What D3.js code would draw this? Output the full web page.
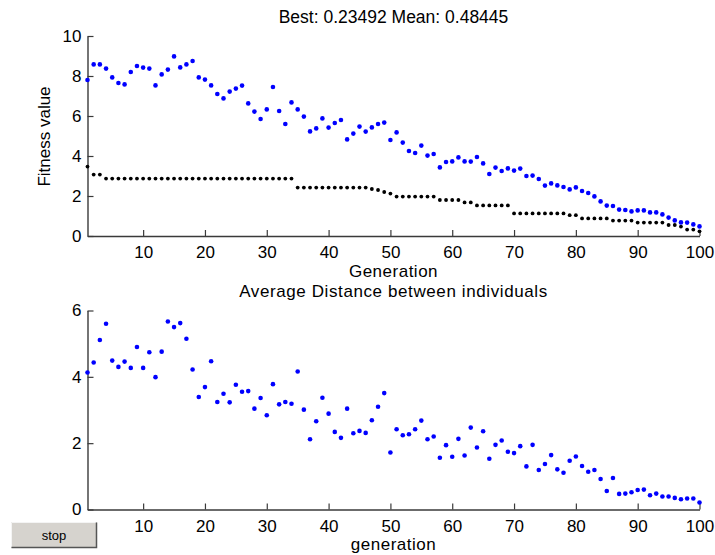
<!DOCTYPE html>
<html>
<head>
<meta charset="utf-8">
<script src="https://cdn.jsdelivr.net/npm/d3@7"></script>
<style>
  html, body { margin: 0; padding: 0; background: #fff; }
  svg { display: block; }
  text { font-family: "Liberation Sans", Arial, Helvetica, sans-serif; fill: #000; }
</style>
</head>
<body>
<svg id="chart" width="715" height="555"></svg>
<script>
// ---------- data ----------
const generations = d3.range(1, 101);

const meanFitness = [
  7.8, 8.58, 8.58, 8.37, 7.93, 7.65, 7.58, 8.2, 8.5, 8.42,
  8.37, 7.53, 8.08, 8.32, 8.98, 8.43, 8.58, 8.75, 7.93, 7.82,
  7.53, 7.1, 6.88, 7.22, 7.37, 7.52, 6.63, 6.22, 5.85, 6.33,
  7.45, 6.25, 5.6, 6.68, 6.33, 5.97, 5.23, 5.38, 5.88, 5.42,
  5.65, 5.8, 4.83, 5.12, 5.47, 5.22, 5.43, 5.6, 5.67, 4.8,
  5.18, 4.67, 4.25, 4.15, 4.52, 4.02, 4.1, 3.43, 3.7, 3.73,
  3.93, 3.73, 3.72, 3.95, 3.63, 3.1, 3.42, 3.25, 3.38, 3.27,
  3.37, 3.0, 3.02, 2.85, 2.52, 2.63, 2.53, 2.45, 2.33, 2.43,
  2.25, 2.15, 1.98, 1.73, 1.52, 1.5, 1.32, 1.3, 1.23, 1.28,
  1.28, 1.18, 1.18, 1.08, 0.92, 0.78, 0.68, 0.67, 0.58, 0.48
];

const bestFitness = [
  3.47, 3.07, 3.07, 2.87, 2.87, 2.87, 2.87, 2.87, 2.87, 2.87,
  2.87, 2.87, 2.87, 2.87, 2.87, 2.87, 2.87, 2.87, 2.87, 2.87,
  2.87, 2.87, 2.87, 2.87, 2.87, 2.87, 2.87, 2.87, 2.87, 2.87,
  2.87, 2.87, 2.87, 2.87, 2.42, 2.42, 2.42, 2.42, 2.42, 2.42,
  2.42, 2.42, 2.42, 2.42, 2.42, 2.42, 2.35, 2.3, 2.2, 2.12,
  1.97, 1.97, 1.97, 1.97, 1.97, 1.97, 1.97, 1.8, 1.8, 1.8,
  1.8, 1.68, 1.68, 1.53, 1.53, 1.53, 1.53, 1.53, 1.53, 1.13,
  1.13, 1.13, 1.13, 1.13, 1.13, 1.13, 1.13, 1.13, 1.04, 1.04,
  0.88, 0.88, 0.88, 0.88, 0.88, 0.77, 0.77, 0.77, 0.77, 0.67,
  0.67, 0.67, 0.67, 0.67, 0.55, 0.55, 0.47, 0.32, 0.32, 0.235
];

const avgDistance = [
  4.13, 4.43, 5.11, 5.6, 4.49, 4.3, 4.46, 4.27, 4.9, 4.27,
  4.74, 3.99, 4.76, 5.67, 5.5, 5.62, 5.15, 4.22, 3.39, 3.69,
  4.47, 3.24, 3.49, 3.23, 3.76, 3.55, 3.57, 3.04, 3.36, 2.84,
  3.78, 3.17, 3.24, 3.19, 4.16, 3.01, 2.12, 2.66, 3.37, 2.89,
  2.34, 2.16, 3.04, 2.3, 2.37, 2.31, 2.69, 3.1, 3.51, 1.72,
  2.42, 2.24, 2.27, 2.42, 2.68, 2.12, 2.2, 1.56, 1.94, 1.59,
  2.13, 1.63, 2.47, 1.87, 2.36, 1.53, 1.95, 2.08, 1.74, 1.7,
  1.91, 1.3, 1.95, 1.19, 1.37, 1.64, 1.21, 1.11, 1.47, 1.6,
  1.31, 1.14, 1.19, 0.92, 0.56, 0.95, 0.47, 0.48, 0.52, 0.59,
  0.6, 0.43, 0.48, 0.39, 0.39, 0.35, 0.31, 0.33, 0.33, 0.21
];

const xTicks = [10, 20, 30, 40, 50, 60, 70, 80, 90, 100];
const topYTicks = [0, 2, 4, 6, 8, 10];
const bottomYTicks = [0, 2, 4, 6];

const topTitle = "Best: 0.23492 Mean: 0.48445";
const topXLabel = "Generation";
const topYLabel = "Fitness value";
const bottomTitle = "Average Distance between individuals";
const bottomXLabel = "generation";

// ---------- layout ----------
const svg = d3.select("#chart");
const left = 87.5, right = 699.5;
const axisColor = "#3a3a3a";

const x = d3.scaleLinear().domain([1, 100]).range([left, right]);
const yTop = d3.scaleLinear().domain([0, 10]).range([236, 36]);
const yBot = d3.scaleLinear().domain([0, 6]).range([509.5, 310.5]);
const fmt = d3.format("d");

function drawAxes(y, yTicks, axisY) {
  const gx = svg.append("g").attr("transform", `translate(0,${axisY})`)
    .call(d3.axisBottom(x).tickValues(xTicks).tickFormat(fmt)
      .tickSizeInner(-6).tickSizeOuter(0).tickPadding(10));
  const gy = svg.append("g").attr("transform", `translate(${left},0)`)
    .call(d3.axisLeft(y).tickValues(yTicks).tickFormat(fmt)
      .tickSizeInner(-6).tickSizeOuter(0).tickPadding(6));
  [gx, gy].forEach(g => {
    g.select(".domain").attr("stroke", axisColor).attr("stroke-width", 1.4);
    g.selectAll(".tick line").attr("stroke", axisColor).attr("stroke-width", 1.2);
    g.selectAll(".tick text").attr("font-size", 17).attr("fill", "#000")
      .style("font-family", '"Liberation Sans", Arial, sans-serif');
  });
}

drawAxes(yTop, topYTicks, 236);
drawAxes(yBot, bottomYTicks, 509.5);

// ---------- marks ----------
svg.append("g").selectAll("circle").data(generations).join("circle")
  .attr("cx", d => x(d)).attr("cy", (d, i) => yTop(bestFitness[i]))
  .attr("r", 1.9).attr("fill", "#000");

svg.append("g").selectAll("circle").data(generations).join("circle")
  .attr("cx", d => x(d)).attr("cy", (d, i) => yTop(meanFitness[i]))
  .attr("r", 2.3).attr("fill", "#0000ff");

svg.append("g").selectAll("circle").data(generations).join("circle")
  .attr("cx", d => x(d)).attr("cy", (d, i) => yBot(avgDistance[i]))
  .attr("r", 2.3).attr("fill", "#0000ff");

// ---------- texts ----------
const cx = (left + right) / 2;
svg.append("text").attr("x", cx).attr("y", 22.5).attr("text-anchor", "middle")
  .attr("font-size", 17.5).text(topTitle);
svg.append("text").attr("x", cx).attr("y", 277).attr("text-anchor", "middle")
  .attr("font-size", 17).attr("letter-spacing", 0.5).text(topXLabel);
svg.append("text").attr("x", cx).attr("y", 296.5).attr("text-anchor", "middle")
  .attr("font-size", 17).attr("letter-spacing", 0.6).text(bottomTitle);
svg.append("text").attr("x", cx).attr("y", 550).attr("text-anchor", "middle")
  .attr("font-size", 17).attr("letter-spacing", 0.5).text(bottomXLabel);
svg.append("text").attr("transform", "translate(50,136.5) rotate(-90)")
  .attr("text-anchor", "middle").attr("font-size", 17).text(topYLabel);

// ---------- stop button ----------
const btn = svg.append("g");
btn.append("rect").attr("x", 11).attr("y", 522).attr("width", 86).attr("height", 26)
  .attr("fill", "#d6d3ce");
btn.append("path").attr("d", "M11.5,547.5 V522.5 H96.5").attr("fill", "none")
  .attr("stroke", "#f4f4f4").attr("stroke-width", 1);
btn.append("path").attr("d", "M11.5,547.5 H96.5 V522.5").attr("fill", "none")
  .attr("stroke", "#555").attr("stroke-width", 1.5);
btn.append("text").attr("x", 54).attr("y", 540).attr("text-anchor", "middle")
  .attr("font-size", 13).attr("fill", "#222").text("stop");
</script>
</body>
</html>
